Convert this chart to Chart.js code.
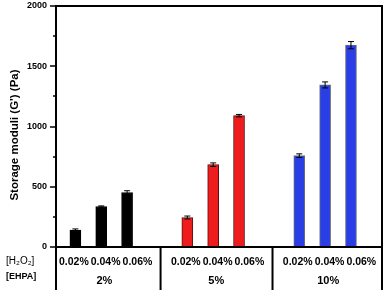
<!DOCTYPE html>
<html lang="en">
<head>
    <meta charset="UTF-8">
    <title>Storage moduli</title>
    <script src="https://cdn.jsdelivr.net/npm/chart.js"></script>
    <style>
        html, body { margin: 0; padding: 0; background: #fff; }
        #wrap { width: 386px; height: 290px; }
    </style>
</head>
<body>
<div id="wrap"><canvas id="myChart"></canvas></div>
<script>
    var ehpaLabels = ['2%', '5%', '10%'];
    var h2o2Labels = ['0.02%', '0.04%', '0.06%'];
    var ehpa2 = [140, 336, 452];
    var ehpa5 = [245, 683, 1090];
    var ehpa10 = [758, 1345, 1675];
    var err2 = [10, 5, 15];
    var err5 = [12, 15, 10];
    var err10 = [15, 25, 30];
    var yTicks = [0, 500, 1000, 1500, 2000];

    var groupColors = ['#000000', '#ee1c1c', '#2a3ee6'];
    var groupBorders = ['#000000', '#5a1010', '#707070'];
    var groupGap = 4.33; // distance between groups, in bar steps
    var labelStep = 1.23; // h2o2 labels are spread a bit wider than the bars

    var values = [ehpa2, ehpa5, ehpa10];
    var errors = [err2, err5, err10];
    var points = [], errs = [], bg = [], bd = [];
    values.forEach(function (series, g) {
        series.forEach(function (v, i) {
            points.push({ x: g * groupGap + i, y: v });
            errs.push(errors[g][i]);
            bg.push(groupColors[g]);
            bd.push(groupBorders[g]);
        });
    });

    var extras = {
        id: 'extras',
        afterDatasetsDraw: function (chart) {
            var ctx = chart.ctx, a = chart.chartArea;
            var xs = chart.scales.x, ys = chart.scales.y;
            var meta = chart.getDatasetMeta(0);
            ctx.save();
            // error bars
            ctx.strokeStyle = '#000';
            ctx.lineWidth = 1;
            meta.data.forEach(function (bar, k) {
                var v = points[k].y, e = errs[k];
                var yt = ys.getPixelForValue(v + e), yb = ys.getPixelForValue(v - e);
                ctx.beginPath();
                ctx.moveTo(bar.x, yt); ctx.lineTo(bar.x, yb);
                ctx.moveTo(bar.x - 3, yt); ctx.lineTo(bar.x + 3, yt);
                ctx.moveTo(bar.x - 3, yb); ctx.lineTo(bar.x + 3, yb);
                ctx.stroke();
            });
            // frame
            ctx.lineWidth = 2;
            ctx.beginPath();
            ctx.moveTo(a.left, 290); ctx.lineTo(a.left, a.top);
            ctx.lineTo(a.right, a.top); ctx.lineTo(a.right, 290);
            ctx.moveTo(a.left, a.bottom); ctx.lineTo(a.right, a.bottom);
            // group separators
            for (var g = 1; g < 3; g++) {
                var sx = xs.getPixelForValue(g * groupGap - (groupGap - 2) / 2 + 0.13);
                ctx.moveTo(sx, a.bottom); ctx.lineTo(sx, 290);
            }
            ctx.stroke();
            // y ticks, major and minor
            ctx.lineWidth = 1.5;
            ctx.beginPath();
            for (var t = 0; t <= 2000; t += 250) {
                var ty = Math.round(ys.getPixelForValue(t));
                var len = (t % 500 === 0) ? 6 : 3;
                ctx.moveTo(a.left - len, ty); ctx.lineTo(a.left, ty);
            }
            ctx.stroke();
            // category texts
            ctx.fillStyle = '#000';
            ctx.textAlign = 'center';
            ctx.textBaseline = 'middle';
            ctx.font = 'bold 10.5px "Liberation Sans", Arial, sans-serif';
            ehpaLabels.forEach(function (lab, g) {
                h2o2Labels.forEach(function (h, i) {
                    ctx.fillText(h, xs.getPixelForValue(g * groupGap + 1.17 + (i - 1) * labelStep), 262);
                });
            });
            ctx.font = 'bold 11px "Liberation Sans", Arial, sans-serif';
            ehpaLabels.forEach(function (lab, g) {
                ctx.fillText(lab, xs.getPixelForValue(g * groupGap + 1.12), 281);
            });
            ctx.textAlign = 'left';
            ctx.font = '10px "Liberation Sans", Arial, sans-serif';
            ctx.fillText('[H\u2082O\u2082]', 6, 261);
            ctx.font = 'bold 9px "Liberation Sans", Arial, sans-serif';
            ctx.fillText('[EHPA]', 6, 277);
            // y title
            ctx.translate(15, 135);
            ctx.rotate(-Math.PI / 2);
            ctx.textAlign = 'center';
            ctx.font = 'bold 11.5px "Liberation Sans", Arial, sans-serif';
            ctx.fillText("Storage moduli (G') (Pa)", 0, 0);
            ctx.restore();
        }
    };

    var ctx = document.getElementById('myChart').getContext('2d');
    var myChart = new Chart(ctx, {
        type: 'bar',
        data: {
            datasets: [{
                data: points,
                backgroundColor: bg,
                borderColor: bd,
                borderWidth: 1,
                barThickness: 11
            }]
        },
        options: {
            responsive: true,
            maintainAspectRatio: false,
            animation: false,
            layout: { padding: { top: 6, right: 4, bottom: 43, left: 0 } },
            plugins: { legend: { display: false }, tooltip: { enabled: false } },
            scales: {
                x: {
                    type: 'linear',
                    display: false,
                    offset: false,
                    min: -0.75,
                    max: 2 * groupGap + 2 + 1.2
                },
                y: {
                    min: 0,
                    max: 2000,
                    afterFit: function (scale) {
                        scale.width = 56;
                        scale.paddingTop = 0;
                        scale.paddingBottom = 0;
                    },
                    afterBuildTicks: function (scale) {
                        scale.ticks = yTicks.map(function (v) { return { value: v }; });
                    },
                    grid: { display: false },
                    border: { display: false },
                    ticks: {
                        padding: 1,
                        color: '#000',
                        callback: function (v) { return String(v); },
                        font: { family: '"Liberation Sans", Arial, sans-serif', size: 9, weight: 'bold' }
                    }
                }
            }
        },
        plugins: [extras]
    });
</script>
</body>
</html>
